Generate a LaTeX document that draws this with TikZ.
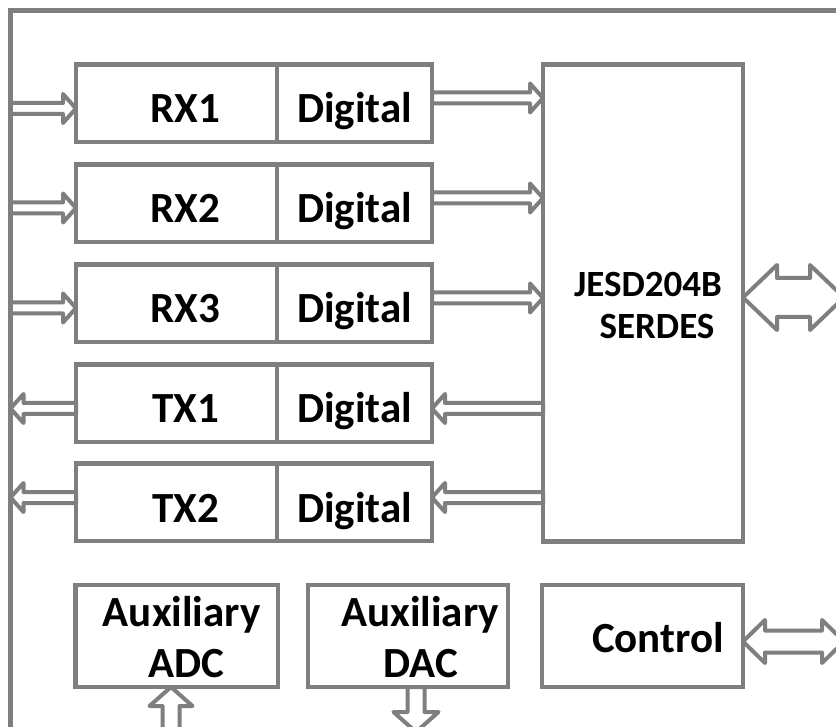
\documentclass[tikz,border=0pt]{standalone}
\usepackage{fontspec}
\setmainfont{Carlito}
\usetikzlibrary{calc}
\definecolor{lg}{RGB}{127,127,127}
\begin{document}
\begin{tikzpicture}[x=1pt,y=-1pt,
  blk/.style={draw=lg, line width=4.75pt, rectangle, inner sep=0pt, outer sep=0pt,
    font=\bfseries\fontsize{43}{51}\selectfont, text=black},
  rowl/.style={blk, minimum width=201pt, minimum height=77.5pt, anchor=north west,
    text height=39.5pt, text depth=0pt},
  rowr/.style={blk, minimum width=155pt, minimum height=77.5pt, anchor=west,
    text height=39.5pt, text depth=0pt},
  fat/.style={draw=lg, line width=4pt, line join=round},
  hfat/.style n args={4}{to path={let \p1=(\tikztostart), \p2=(\tikztotarget) in
    (\x1,{\y1+#2}) -- ({\x2-(#1)*(#4)},{\y1+#2}) -- ({\x2-(#1)*(#4)},{\y1+#3})
    -- (\x2,\y1) -- ({\x2-(#1)*(#4)},{\y1-#3}) -- ({\x2-(#1)*(#4)},{\y1-#2})
    -- (\x1,{\y1-#2}) -- cycle}},
  vfat/.style n args={4}{to path={let \p1=(\tikztostart), \p2=(\tikztotarget) in
    ({\x1+#2},\y1) -- ({\x1+#2},{\y2-(#1)*(#4)}) -- ({\x1+#3},{\y2-(#1)*(#4)})
    -- (\x1,\y2) -- ({\x1-#3},{\y2-(#1)*(#4)}) -- ({\x1-#2},{\y2-(#1)*(#4)})
    -- ({\x1-#2},\y1) -- cycle}},
  dfat/.style n args={3}{to path={let \p1=(\tikztostart), \p2=(\tikztotarget) in
    (\x1,\y1) -- ({\x1+#3},{\y1+#2}) -- ({\x1+#3},{\y1+#1}) -- ({\x2-#3},{\y1+#1})
    -- ({\x2-#3},{\y1+#2}) -- (\x2,\y1) -- ({\x2-#3},{\y1-#2}) -- ({\x2-#3},{\y1-#1})
    -- ({\x1+#3},{\y1-#1}) -- ({\x1+#3},{\y1-#2}) -- cycle}},
  small/.style={fat, hfat={#1}{5.5pt}{14.5pt}{13pt}}
]
\useasboundingbox (0,0) rectangle (836,727);
\fill[white] (0,0) rectangle (836,727);
\clip (0,0) rectangle (836,727);

% outer frame
\draw[lg, line width=4.75pt] (10.5,790) -- (10.5,10.5) -- (890,10.5);

% rows
\node[rowl] (rx1) at (76,64.5)  {\hspace*{18pt}RX1};
\node[rowr] (rx1d) at (rx1.east) {Digital};
\node[rowl] (rx2) at (76,164.5) {\hspace*{18pt}RX2};
\node[rowr] (rx2d) at (rx2.east) {Digital};
\node[rowl] (rx3) at (76,264.5) {\hspace*{18pt}RX3};
\node[rowr] (rx3d) at (rx3.east) {Digital};
\node[rowl] (tx1) at (76,364.5) {\hspace*{18pt}TX1};
\node[rowr] (tx1d) at (tx1.east) {Digital};
\node[rowl] (tx2) at (76,463.5) {\hspace*{18pt}TX2};
\node[rowr] (tx2d) at (tx2.east) {Digital};

% JESD
\node[blk, minimum width=200pt, minimum height=477pt, anchor=north west, align=center,
  font=\bfseries\fontsize{37}{42}\selectfont] (jesd) at (543,64.5)
  {\rule{0pt}{30pt}\hspace*{10pt}JESD204B\\\hspace*{28pt}SERDES};

% bottom boxes
\node[blk, minimum width=202.5pt, minimum height=102pt, anchor=north west, align=center]
  (adc) at (75.5,585) {\rule{0pt}{33pt}\hspace*{10pt}Auxiliary\\\hspace*{20pt}ADC};
\node[blk, minimum width=200pt, minimum height=102pt, anchor=north west, align=center]
  (dac) at (308,585) {\rule{0pt}{33pt}\hspace*{24pt}Auxiliary\\\hspace*{26pt}DAC};
\node[blk, minimum width=201pt, minimum height=102pt, anchor=north west,
  text height=33pt, text depth=0pt] (ctrl) at (542,585) {\hspace*{31pt}Control};

% free ends
\coordinate (i1) at (10.5,108.5);
\coordinate (i2) at (10.5,208);
\coordinate (i3) at (10.5,308);
\coordinate (o1) at (10.5,408.5);
\coordinate (o2) at (10.5,497.5);
\coordinate (serout) at (844,297.5);
\coordinate (ctrlout) at (844,641.5);
\coordinate (adcin) at (171,760);
\coordinate (dacout) at (416,732);

% input arrows
\draw[small=1] (i1) to (rx1.west);
\draw[small=1] (i2) to (rx2.west);
\draw[small=1] (i3) to (rx3.west);
% RX to JESD
\draw[small=1] ([yshift=5.25pt]rx1d.east) to (jesd.west);
\draw[small=1] ([yshift=5.25pt]rx2d.east) to (jesd.west);
\draw[small=1] ([yshift=5.25pt]rx3d.east) to (jesd.west);
% JESD to TX
\draw[small=-1] ([yshift=-5.25pt]jesd.west |- tx1d.east) to (tx1d.east);
\draw[small=-1] ([yshift=4.75pt]jesd.west |- tx2d.east) to (tx2d.east);
% TX outputs
\draw[small=-1] ([yshift=-5.25pt]tx1.west) to (o1);
\draw[small=-1] ([yshift=4.75pt]tx2.west) to (o2);

% big double arrows
\draw[fat, dfat={19.5pt}{32.5pt}{34pt}] ([yshift=5.5pt]jesd.east) to (serout);
\draw[fat, dfat={11pt}{21.5pt}{22pt}] ([yshift=-5.5pt]ctrl.east) to (ctrlout);

% vertical arrows
\draw[fat, vfat={1}{8.5pt}{21.5pt}{19pt}] (adcin) to (adc.south);
\draw[fat, vfat={-1}{8.5pt}{22.5pt}{20pt}] ([xshift=8pt]dac.south) to (dacout);
\end{tikzpicture}
\end{document}
